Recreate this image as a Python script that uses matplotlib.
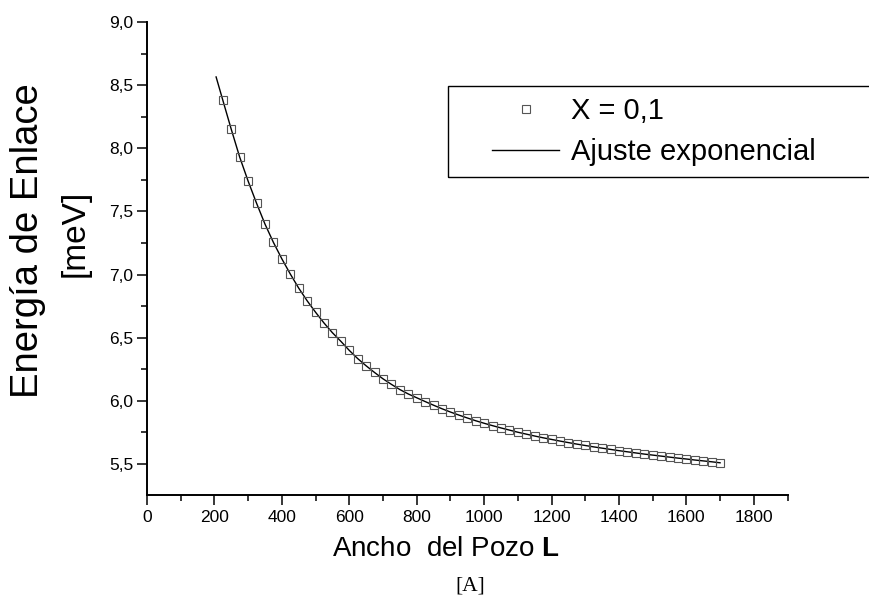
import numpy as np
import matplotlib
matplotlib.use("Agg")
import matplotlib.pyplot as plt
from matplotlib.patches import Rectangle
from matplotlib.ticker import MultipleLocator, FuncFormatter

plt.rcParams['font.family'] = ['Liberation Sans', 'DejaVu Sans']
plt.rcParams['mathtext.fontset'] = 'custom'
plt.rcParams['mathtext.rm'] = 'Liberation Sans'
plt.rcParams['mathtext.bf'] = 'Liberation Sans:bold'

# well width L [A] and binding energy [meV] for X = 0,1
ancho = [225, 250, 275, 300, 325, 350, 375, 400, 425, 450, 475, 500,
         525, 550, 575, 600, 625, 650, 675, 700, 725, 750, 775, 800,
         825, 850, 875, 900, 925, 950, 975, 1000, 1025, 1050, 1075, 1100,
         1125, 1150, 1175, 1200, 1225, 1250, 1275, 1300, 1325, 1350, 1375, 1400,
         1425, 1450, 1475, 1500, 1525, 1550, 1575, 1600, 1625, 1650, 1675, 1700]
energia = [8.380, 8.150, 7.930, 7.740, 7.565, 7.400, 7.255, 7.125, 7.005, 6.893, 6.793, 6.702,
           6.617, 6.540, 6.472, 6.400, 6.335, 6.278, 6.225, 6.175, 6.131, 6.090, 6.055, 6.025,
           5.995, 5.966, 5.938, 5.912, 5.888, 5.865, 5.843, 5.823, 5.804, 5.786, 5.769, 5.752,
           5.737, 5.722, 5.708, 5.695, 5.682, 5.670, 5.658, 5.647, 5.636, 5.626, 5.616, 5.606,
           5.597, 5.588, 5.579, 5.571, 5.563, 5.555, 5.547, 5.540, 5.532, 5.525, 5.518, 5.510]

# exponential fit curve, starts a little before the first point
ajuste_L = [205] + ancho
ajuste_E = [8.565] + energia

fig = plt.figure(figsize=(8.69, 6.0), dpi=100)
ax = fig.add_axes([147 / 869, 1 - 495 / 600, (787.5 - 147) / 869, (495 - 22) / 600])

ax.plot(ajuste_L, ajuste_E, color='black', lw=1.0, zorder=2)
ax.plot(ancho, energia, ls='none', marker='s', ms=6.3, mfc='none',
        mec='#555555', mew=0.8, zorder=3)

ax.set_xlim(0, 1900)
ax.set_ylim(5.255, 9.0)
ax.xaxis.set_major_locator(MultipleLocator(200))
ax.xaxis.set_minor_locator(MultipleLocator(100))
ax.yaxis.set_major_locator(MultipleLocator(0.5))
ax.yaxis.set_minor_locator(MultipleLocator(0.25))
ax.yaxis.set_major_formatter(FuncFormatter(lambda v, p: f"{v:.1f}".replace('.', ',')))

for s in ['top', 'right']:
    ax.spines[s].set_visible(False)
for s in ['left', 'bottom']:
    ax.spines[s].set_linewidth(1.4)

ax.tick_params(which='major', direction='out', length=7, width=1.1, labelsize=12.5)
ax.tick_params(which='minor', direction='out', length=4, width=1.1)
ax.tick_params(axis='x', which='major', pad=4)
ax.tick_params(axis='y', which='major', pad=3)

# axis titles
fig.text(28 / 869, 1 - 241 / 600, "Energía de Enlace", rotation=90,
         ha='center', va='center', fontsize=27.5)
fig.text(75 / 869, 1 - 233 / 600, "[meV]", rotation=90,
         ha='center', va='center', fontsize=24)
fig.text(446 / 869, 1 - 549 / 600, r"Ancho  del Pozo $\mathbf{L}$",
         ha='center', va='center', fontsize=20)
fig.text(470 / 869, 1 - 586 / 600, "[A]", ha='center', va='center',
         fontsize=15.5, family='Liberation Serif')

# legend box runs past the right edge of the figure
fig.patches.append(Rectangle((448 / 869, 1 - 177 / 600), 440 / 869, 91 / 600,
                             transform=fig.transFigure, fill=False,
                             ec='black', lw=1.0))
leg = fig.legend(handles=[ax.lines[1], ax.lines[0]],
                 labels=["X = 0,1", "Ajuste exponencial"],
                 loc='upper left', bbox_to_anchor=(492 / 869, 1 - 97 / 600),
                 frameon=False, fontsize=21, borderpad=0, borderaxespad=0,
                 handlelength=2.3, handletextpad=0.4, labelspacing=0.45)

fig.savefig("out.png", dpi=100)
